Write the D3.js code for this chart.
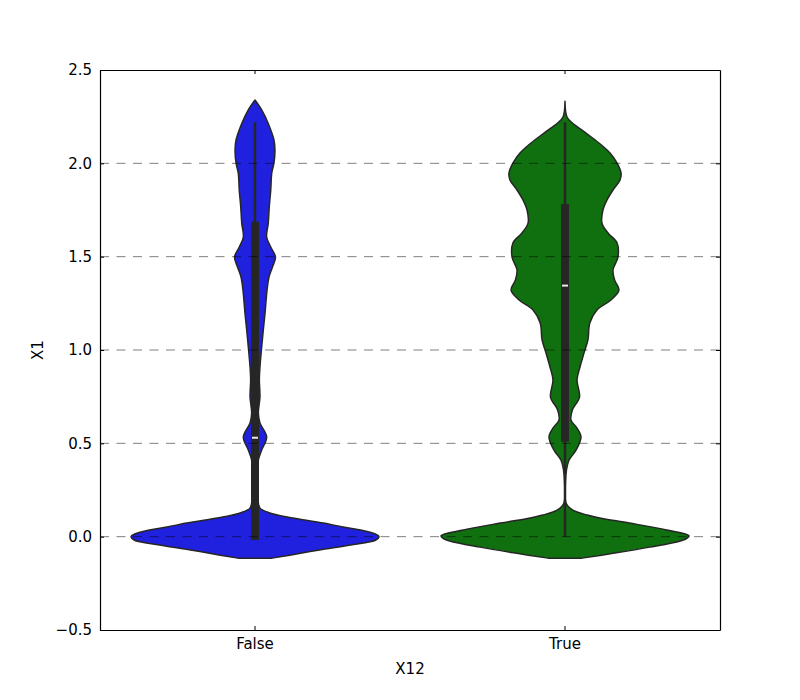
<!DOCTYPE html>
<html>
<head>
<meta charset="utf-8">
<script src="https://cdn.jsdelivr.net/npm/d3@7"></script>
<style>
  body { margin: 0; background: #fff; }
  text { font-family: "DejaVu Sans", sans-serif; }
</style>
</head>
<body>
<div id="chart"></div>
<script>
// categories and colours
const categories = ["False", "True"];
const colors = ["#2020df", "#107010"];

// violin outlines: y value and relative density (1 = widest)
const falseY = [-0.115, -0.099, -0.071, -0.045, -0.018, 0.0, 0.014, 0.036, 0.052, 0.073, 0.089, 0.105, 0.127, 0.153, 0.196,
  0.30, 0.41, 0.464, 0.534, 0.609, 0.662, 0.748, 0.839, 0.909, 1.016, 1.107, 1.198, 1.321, 1.391, 1.445, 1.498,
  1.552, 1.605, 1.68, 1.766, 1.857, 1.948, 2.002, 2.071, 2.125, 2.216, 2.286, 2.339];
const falseDensity = [0.137, 0.28, 0.52, 0.77, 0.975, 1.0, 0.97, 0.85, 0.71, 0.55, 0.40, 0.26, 0.12, 0.04, 0.024,
  0.02, 0.027, 0.054, 0.094, 0.04, 0.027, 0.04, 0.035, 0.04, 0.054, 0.067, 0.081, 0.097, 0.113, 0.141, 0.165,
  0.127, 0.094, 0.107, 0.115, 0.127, 0.135, 0.153, 0.161, 0.153, 0.105, 0.054, 0.0];

const trueY = [-0.115, -0.088, -0.056, -0.023, -0.008, 0.005, 0.036, 0.073, 0.1, 0.116, 0.132, 0.153, 0.18,
  0.30, 0.357, 0.41, 0.464, 0.534, 0.582, 0.625, 0.68, 0.748, 0.839, 0.909, 0.984, 1.054, 1.145, 1.214, 1.268,
  1.321, 1.375, 1.429, 1.498, 1.573, 1.627, 1.68, 1.75, 1.804, 1.857, 1.911, 1.948, 2.002, 2.055, 2.109, 2.162,
  2.216, 2.248, 2.333];
const trueDensity = [0.137, 0.40, 0.685, 0.93, 0.985, 1.0, 0.82, 0.52, 0.28, 0.18, 0.097, 0.04, 0.008,
  0.004, 0.012, 0.032, 0.089, 0.129, 0.097, 0.048, 0.06, 0.117, 0.097, 0.121, 0.153, 0.185, 0.20, 0.258, 0.37,
  0.435, 0.40, 0.387, 0.427, 0.42, 0.347, 0.298, 0.306, 0.339, 0.387, 0.444, 0.452, 0.419, 0.363, 0.274, 0.169,
  0.06, 0.016, 0.0];

// inner box stats: whisker low, q1, median, q3, whisker high
const boxStats = [
  [-0.018, -0.018, 0.53, 1.687, 2.22],
  [0.0, 0.509, 1.345, 1.782, 2.22]
];

const yTicks = [-0.5, 0.0, 0.5, 1.0, 1.5, 2.0, 2.5];
const gridTicks = [0.0, 0.5, 1.0, 1.5, 2.0];

const profiles = [
  falseY.map((y, i) => ({ y: y, d: falseDensity[i] })),
  trueY.map((y, i) => ({ y: y, d: trueDensity[i] }))
];

let width = 800, height = 700;
const margin = { top: 70, right: 80, bottom: 70, left: 100 };

const svg = d3.select("#chart")
    .append("svg")
    .attr("width", width)
    .attr("height", height);

const x = d3.scaleBand()
    .domain(categories)
    .range([margin.left, width - margin.right]);

const y = d3.scaleLinear()
    .domain([-0.5, 2.5])
    .range([height - margin.bottom, margin.top]);

// half width of widest violin = 0.4 of a band
const w = d3.scaleLinear()
    .domain([0, 1])
    .range([0, x.bandwidth() * 0.4]);

// violins
categories.forEach((c, i) => {
    const cx = x(c) + x.bandwidth() / 2;
    const area = d3.area()
        .y(d => y(d.y))
        .x0(d => cx - w(d.d))
        .x1(d => cx + w(d.d))
        .curve(d3.curveCatmullRom);

    svg.append("path")
        .datum(profiles[i])
        .attr("d", area)
        .attr("fill", colors[i])
        .attr("stroke", "#262626")
        .attr("stroke-width", 1.5)
        .attr("stroke-linejoin", "round");

    const s = boxStats[i];
    svg.append("line")
        .attr("x1", cx).attr("x2", cx)
        .attr("y1", y(s[0])).attr("y2", y(s[4]))
        .attr("stroke", "#262626")
        .attr("stroke-width", 2.5);

    svg.append("rect")
        .attr("x", cx - 4)
        .attr("width", 8)
        .attr("y", y(s[3]))
        .attr("height", y(s[1]) - y(s[3]))
        .attr("fill", "#262626");

    svg.append("rect")
        .attr("x", cx - 3)
        .attr("width", 6)
        .attr("y", y(s[2]) - 1)
        .attr("height", 2)
        .attr("fill", "#e8e8e8");
});

// dashed grid drawn over the violins
svg.append("g")
    .selectAll("line")
    .data(gridTicks)
    .enter()
    .append("line")
    .attr("x1", margin.left)
    .attr("x2", width - margin.right)
    .attr("y1", d => y(d))
    .attr("y2", d => y(d))
    .attr("stroke", "#000")
    .attr("stroke-opacity", 0.5)
    .attr("stroke-width", 1)
    .attr("stroke-dasharray", "9,7.5");

// axes, ticks pointing inward
const fmt = d3.format(".1f");
const axisL = svg.append("g")
    .attr("transform", "translate(" + margin.left + ",0)")
    .call(d3.axisLeft(y).tickValues(yTicks).tickFormat(fmt).tickSizeInner(-4).tickSizeOuter(0).tickPadding(8));
const axisR = svg.append("g")
    .attr("transform", "translate(" + (width - margin.right) + ",0)")
    .call(d3.axisRight(y).tickValues(yTicks).tickFormat("").tickSizeInner(-4).tickSizeOuter(0));
const axisB = svg.append("g")
    .attr("transform", "translate(0," + (height - margin.bottom) + ")")
    .call(d3.axisBottom(x).tickSizeInner(-4).tickSizeOuter(0).tickPadding(8));
const axisT = svg.append("g")
    .attr("transform", "translate(0," + margin.top + ")")
    .call(d3.axisTop(x).tickFormat("").tickSizeInner(-4).tickSizeOuter(0));

[axisL, axisR, axisB, axisT].forEach(g => {
    g.select(".domain").attr("stroke", "#000").attr("stroke-width", 1.2);
    g.selectAll(".tick line").attr("stroke", "#000");
    g.selectAll(".tick text")
        .attr("fill", "#000")
        .style("font-family", "DejaVu Sans")
        .style("font-size", "15px");
});

svg.append("text")
    .attr("x", x.range()[0] + (x.range()[1] - x.range()[0]) / 2)
    .attr("y", 674)
    .attr("text-anchor", "middle")
    .style("font-size", "15px")
    .text("X12");

svg.append("text")
    .attr("transform", "translate(43," + (margin.top + (height - margin.top - margin.bottom) / 2) + ") rotate(-90)")
    .attr("text-anchor", "middle")
    .style("font-size", "15px")
    .text("X1");
</script>
</body>
</html>
